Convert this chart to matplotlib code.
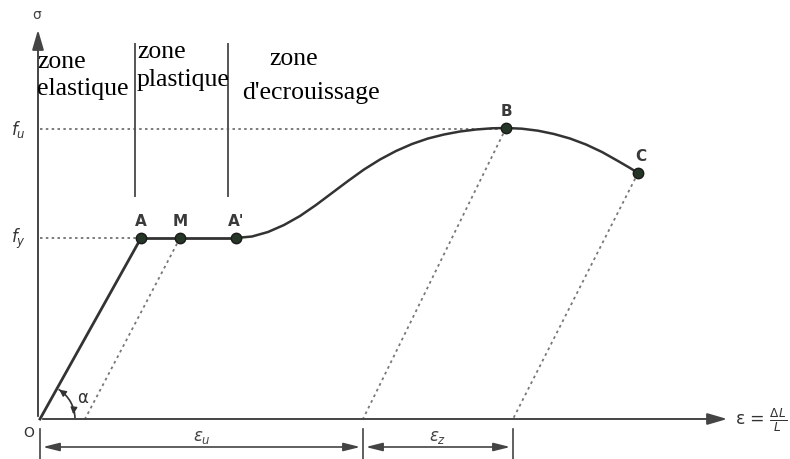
import matplotlib
matplotlib.use("Agg")
import matplotlib.pyplot as plt
from matplotlib.patches import Arc

# ---- data (strain / stress in drawing units, origin O at 0,0) ----
point_names = ["A", "M", "A'", "B", "C"]
point_eps = [101, 140, 196, 466, 598]
point_sig = [181, 181, 181, 291, 246]

fy = 181
fu = 290

# hardening curve A' -> B -> C
curve_eps = [196, 212, 228, 244, 260, 276, 292, 308, 324, 340, 356, 372, 388, 404,
             420, 436, 452, 466, 482, 498, 514, 530, 546, 562, 578, 590, 598]
curve_sig = [181, 182.5, 187, 194, 203, 214, 226, 238, 249.5, 259.5, 268, 275, 280.5,
             284.5, 287.5, 289.5, 290.7, 291, 290.3, 288.3, 285, 280.5, 274.5, 267,
             258, 251, 246]

# unloading lines (from point to residual strain)
unload_from = ["M", "B", "C"]
unload_resid = [45, 323, 473]

# strain intervals
eps_u = 323
eps_z_end = 473

zone_x = [95, 188]

fig = plt.figure(figsize=(7.9, 4.6), dpi=100)
ax = fig.add_axes([0, 0, 1, 1])
ax.set_xlim(-40, 750)
ax.set_ylim(-40, 420)
ax.axis("off")

dark = "#333333"
# axes with arrows
ax.annotate("", xy=(690, 0), xytext=(0, 0),
            arrowprops=dict(arrowstyle="-|>,head_length=1.2,head_width=0.35", color="#444444", lw=1.4))
ax.annotate("", xy=(-2, 392), xytext=(-2, 0),
            arrowprops=dict(arrowstyle="-|>,head_length=1.2,head_width=0.35", color="#444444", lw=1.4))

# dotted reference lines
ax.plot([0, point_eps[0]], [fy, fy], ls=(0, (1.5, 2)), color="#666666", lw=1.2)
ax.plot([0, point_eps[3]], [fu, fu], ls=(0, (1.5, 2)), color="#666666", lw=1.2)

# elastic line O -> A
ax.plot([0, point_eps[0]], [0, fy], color=dark, lw=2)
# plateau A -> A'
ax.plot([point_eps[0], point_eps[2]], [fy, fy], color=dark, lw=2)
# hardening curve
ax.plot(curve_eps, curve_sig, color=dark, lw=1.8, solid_joinstyle="round")

# unloading lines
for name, r in zip(unload_from, unload_resid):
    i = point_names.index(name)
    ax.plot([point_eps[i], r], [point_sig[i], 0], ls=(0, (1.5, 2)), color="#777777", lw=1.3)

# points
ax.plot(point_eps, point_sig, "o", ms=7.5, color="#263626", mec="#1a1a1a", zorder=5)
offs = {"A": (0, 10), "M": (0, 10), "A'": (0, 10), "B": (0, 10), "C": (3, 10)}
for n, e, s in zip(point_names, point_eps, point_sig):
    dx, dy = offs[n]
    ax.text(e + dx, s + dy, n, ha="center", va="bottom", fontsize=11, color="#3a3a3a",
            family="DejaVu Sans", fontweight="bold")

# zone separator lines
for zx in zone_x:
    ax.plot([zx, zx], [223, 375], color="#555555", lw=1.4)

sf = "Liberation Serif"
fs = 18.5
ax.text(-3, 358, "zone", fontsize=fs, family=sf, va="center", ha="left")
ax.text(-3, 331, "elastique", fontsize=fs, family=sf, va="center", ha="left")
ax.text(97, 368, "zone", fontsize=fs, family=sf, va="center", ha="left")
ax.text(97, 340, "plastique", fontsize=fs, family=sf, va="center", ha="left")
ax.text(229, 361, "zone", fontsize=fs, family=sf, va="center", ha="left")
ax.text(202, 327, "d'ecrouissage", fontsize=fs, family=sf, va="center", ha="left")

# axis labels
ax.text(-3, 405, "σ", fontsize=10, ha="center", va="center", color="#444444")
ax.text(-22, fu, "$f_u$", fontsize=12, ha="center", va="center", color="#333333")
ax.text(-22, fy, "$f_y$", fontsize=12, ha="center", va="center", color="#333333")
ax.text(-11, -13, "O", fontsize=10, ha="center", va="center", color="#333333")
ax.text(747, 0, r"ε = $\frac{\Delta L}{L}$", fontsize=12.5, ha="right", va="center", color="#333333")

# alpha arc
ax.add_patch(Arc((0, 0), 70, 70, theta1=0, theta2=58, color=dark, lw=1.2))
ax.annotate("", xy=(33, 2), xytext=(34, 12), arrowprops=dict(arrowstyle="-|>", color=dark, lw=1))
ax.annotate("", xy=(17, 31), xytext=(25, 25), arrowprops=dict(arrowstyle="-|>", color=dark, lw=1))
ax.text(43, 22, "α", fontsize=12, color="#333333", ha="center", va="center")

# dimension lines
yd = -28
for xv in [0, eps_u, eps_z_end]:
    ax.plot([xv, xv], [-10, -40], color="#444444", lw=1.2)
ax.annotate("", xy=(0, yd), xytext=(eps_u, yd),
            arrowprops=dict(arrowstyle="<|-|>,head_length=1.0,head_width=0.25", color="#444444", lw=1.2))
ax.annotate("", xy=(eps_u, yd), xytext=(eps_z_end, yd),
            arrowprops=dict(arrowstyle="<|-|>,head_length=1.0,head_width=0.25", color="#444444", lw=1.2))
ax.text(eps_u / 2, -17, r"$\varepsilon_u$", fontsize=12, ha="center", va="center", color="#444444")
ax.text((eps_u + eps_z_end) / 2, -17, r"$\varepsilon_z$", fontsize=12, ha="center", va="center", color="#444444")

fig.savefig("out.png", dpi=100)
